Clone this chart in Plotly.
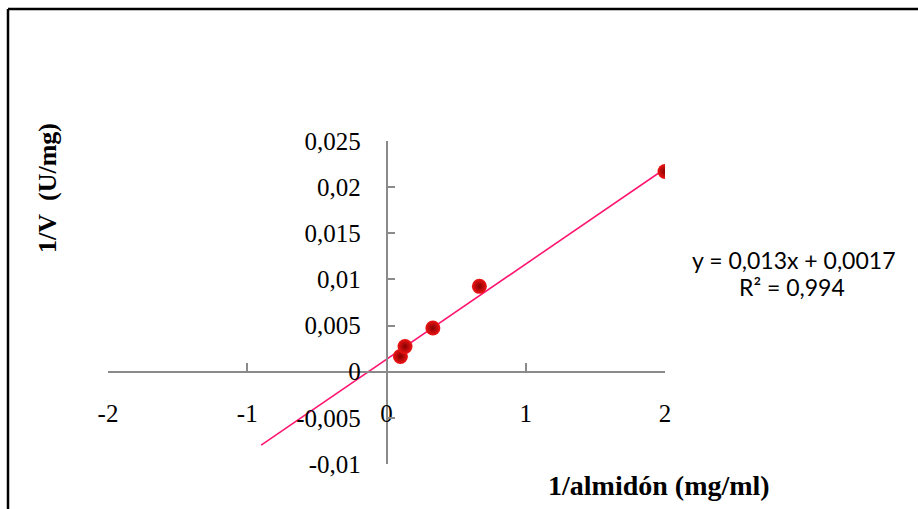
import numpy as np
import plotly.graph_objects as go

# Lineweaver-Burk data: 1/[almidón] vs 1/V
inv_almidon = [0.1, 0.133, 0.333, 0.667, 2.0]
inv_v = [0.00166, 0.00274, 0.00474, 0.00925, 0.0217]

x_ticks = [-2, -1, 0, 1, 2]
x_tick_labels = ["-2", "-1", "0", "1", "2"]
y_ticks = [-0.01, -0.005, 0, 0.005, 0.01, 0.015, 0.02, 0.025]
y_tick_labels = ["-0,01", "-0,005", "0", "0,005", "0,01", "0,015", "0,02", "0,025"]

equation_text = "y = 0,013x + 0,0017"
r2_text = "R² = 0,994"

# linear trendline with a backward forecast of 1 unit
slope, intercept = np.polyfit(inv_almidon, inv_v, 1)
trend_x = np.array([min(inv_almidon) - 1.0, max(inv_almidon)])
trend_y = slope * trend_x + intercept

W, H = 918, 509
ML, MR, MT, MB = 108, 253, 141, 45
x_range = [-2, 2]
y_range = [-0.01, 0.025]

axis_gray = "#8a8a8a"
serif = "Liberation Serif, Times New Roman, serif"
sans = "Lato, Carlito, sans-serif"

fig = go.Figure()
fig.add_trace(go.Scatter(
    x=trend_x, y=trend_y, mode="lines",
    line=dict(color="#ff1670", width=1.6),
    hoverinfo="skip", showlegend=False,
))
fig.add_trace(go.Scatter(
    x=inv_almidon, y=inv_v, mode="markers",
    marker=dict(size=15, color="#f01515",
                gradient=dict(type="radial", color="#850000"),
                line=dict(width=0)),
    showlegend=False,
))

# axes cross at the origin
x_pos = (0 - x_range[0]) / (x_range[1] - x_range[0])
y_pos = (0 - y_range[0]) / (y_range[1] - y_range[0])

fig.update_xaxes(
    range=x_range, anchor="free", position=y_pos,
    showline=True, linecolor=axis_gray, linewidth=1.5,
    showgrid=False, zeroline=False,
    ticks="inside", ticklen=8, tickwidth=1.5, tickcolor=axis_gray,
    tickvals=x_ticks, ticktext=x_tick_labels,
    ticklabelstandoff=20,
    tickfont=dict(family=serif, size=25, color="#000000"),
)
fig.update_yaxes(
    range=y_range, anchor="free", position=x_pos,
    showline=True, linecolor=axis_gray, linewidth=1.5,
    showgrid=False, zeroline=False,
    ticks="inside", ticklen=8, tickwidth=1.5, tickcolor=axis_gray,
    tickvals=y_ticks, ticktext=y_tick_labels,
    ticklabelstandoff=20,
    tickfont=dict(family=serif, size=25, color="#000000"),
)

pw, ph = W - ML - MR, H - MT - MB


def px_to_paper(px, py):
    return (px - ML) / pw, (H - MB - py) / ph


# outer chart frame (top and left edges visible)
fx0, fy0 = px_to_paper(8, 9)
fx1, fy1 = px_to_paper(W + 20, H + 20)
fig.add_shape(type="line", xref="paper", yref="paper",
              x0=fx0, y0=fy0, x1=fx1, y1=fy0,
              line=dict(color="#000000", width=2.5))
fig.add_shape(type="line", xref="paper", yref="paper",
              x0=fx0, y0=fy0, x1=fx0, y1=fy1,
              line=dict(color="#000000", width=2.5))


def add_text(px, py, text, font, angle=0):
    ax, ay = px_to_paper(px, py)
    fig.add_annotation(x=ax, y=ay, xref="paper", yref="paper", showarrow=False,
                       xanchor="center", yanchor="middle",
                       text=text, textangle=angle, font=font)


add_text(47, 188, "<b>1/V\u00a0 (U/mg)</b>",
         dict(family=serif, size=26, color="#000000"), angle=-90)
add_text(659, 486, "<b>1/almidón (mg/ml)</b>",
         dict(family=serif, size=28, color="#000000"))
add_text(793, 260, equation_text, dict(family=sans, size=23, color="#000000"))
add_text(792, 287, r2_text, dict(family=sans, size=23, color="#000000"))

fig.update_layout(
    width=W, height=H,
    margin=dict(l=ML, r=MR, t=MT, b=MB),
    paper_bgcolor="#ffffff", plot_bgcolor="#ffffff",
    showlegend=False,
)

fig.write_html("out.html")
